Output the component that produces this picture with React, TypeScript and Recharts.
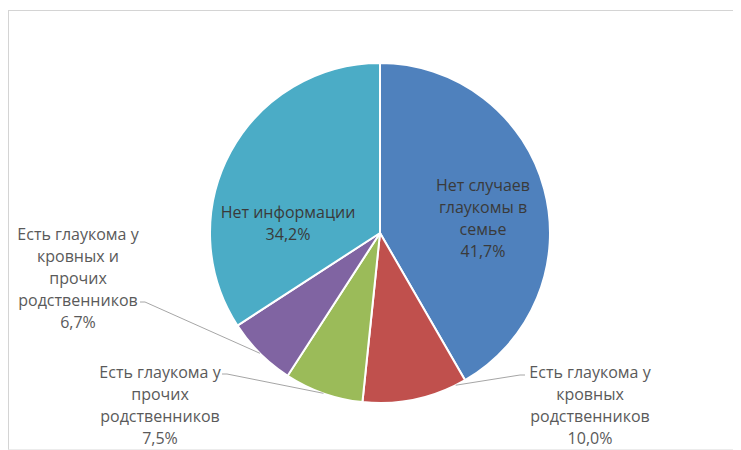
import { PieChart, Pie, Cell } from 'recharts';

const categories = [
    'Нет случаев глаукомы в семье',
    'Есть  глаукома у кровных родственников',
    'Есть глаукома у прочих родственников',
    'Есть глаукома у кровных и прочих родственников',
    'Нет информации',
];
const shares = [41.7, 10.0, 7.5, 6.7, 34.2];
const labelLines = [
    ['Нет случаев', 'глаукомы в', 'семье'],
    ['Есть  глаукома у', 'кровных', 'родственников'],
    ['Есть глаукома у', 'прочих', 'родственников'],
    ['Есть глаукома у', 'кровных и', 'прочих', 'родственников'],
    ['Нет информации'],
];

const colors = ['#4F81BD', '#C0504D', '#9BBB59', '#8064A2', '#4BACC6'];

// label placement relative to pie centre (Excel-like manual layout)
const labelLayout = [
    { x: 103, y: -48, inside: true },
    { x: 210, y: 139, elbowX: 140, elbowY: 142, edge: 0.1 },
    { x: -220, y: 139, elbowX: -153, elbowY: 141, edge: 0.5 },
    { x: -302, y: 1, elbowX: -235, elbowY: 69, edge: 0.5 },
    { x: -92, y: -21, inside: true },
];

const data = categories.map((name, i) => ({ name, value: shares[i] }));
const RADIAN = Math.PI / 180;
const LINE_H = 22;
const fmt = (v: number) => v.toFixed(1).replace('.', ',') + '%';

const renderLabel = (props: any) => {
    const { cx, cy, outerRadius, startAngle, endAngle, index } = props;
    const lay = labelLayout[index];
    const lines = [...labelLines[index], fmt(shares[index])];
    const tx = cx + lay.x;
    const ty = cy + lay.y;
    const color = lay.inside ? '#3a3a3a' : '#5a5a5a';
    let leader = null;
    if (!lay.inside) {
        const ang = startAngle + (endAngle - startAngle) * (lay.edge ?? 0.5);
        const px = cx + outerRadius * Math.cos(-ang * RADIAN);
        const py = cy + outerRadius * Math.sin(-ang * RADIAN);
        const ex = cx + lay.elbowX;
        const ey = cy + lay.elbowY;
        const tail = lay.elbowX > 0 ? 5 : -5;
        leader = (
            <polyline
                points={`${px},${py} ${ex},${ey} ${ex + tail},${ey}`}
                fill="none"
                stroke="#a6a6a6"
                strokeWidth={1}
            />
        );
    }
    return (
        <g key={`lbl-${index}`}>
            {leader}
            <text
                x={tx}
                y={ty}
                textAnchor="middle"
                dominantBaseline="central"
                fill={color}
                fontSize={16}
                fontFamily="'Open Sans', sans-serif"
            >
                {lines.map((l, i) => (
                    <tspan key={i} x={tx} y={ty + i * LINE_H} dominantBaseline="central">
                        {l}
                    </tspan>
                ))}
            </text>
        </g>
    );
};

export default function App() {
    return (
        <div style={{ position: 'relative', width: 733, height: 442, background: '#fff', overflow: 'hidden' }}>
            <div
                style={{
                    position: 'absolute',
                    top: 2,
                    left: 0,
                    width: 740,
                    height: 438,
                    borderTop: '1px solid #d4d4d4',
                    borderLeft: '1px solid #d4d4d4',
                    borderBottom: '1px solid #ececec',
                }}
            />
            <PieChart
                width={733}
                height={442}
                margin={{ top: 0, right: 0, bottom: 0, left: 0 }}
                style={{ position: 'absolute', top: 0, left: 0 }}
            >
                <Pie
                    data={data}
                    dataKey="value"
                    nameKey="name"
                    cx={372}
                    cy={225}
                    outerRadius={170}
                    startAngle={90}
                    endAngle={-270}
                    stroke="#ffffff"
                    strokeWidth={2}
                    label={renderLabel}
                    labelLine={false}
                    isAnimationActive={false}
                >
                    {data.map((d, i) => (
                        <Cell key={d.name} fill={colors[i]} />
                    ))}
                </Pie>
            </PieChart>
        </div>
    );
}
